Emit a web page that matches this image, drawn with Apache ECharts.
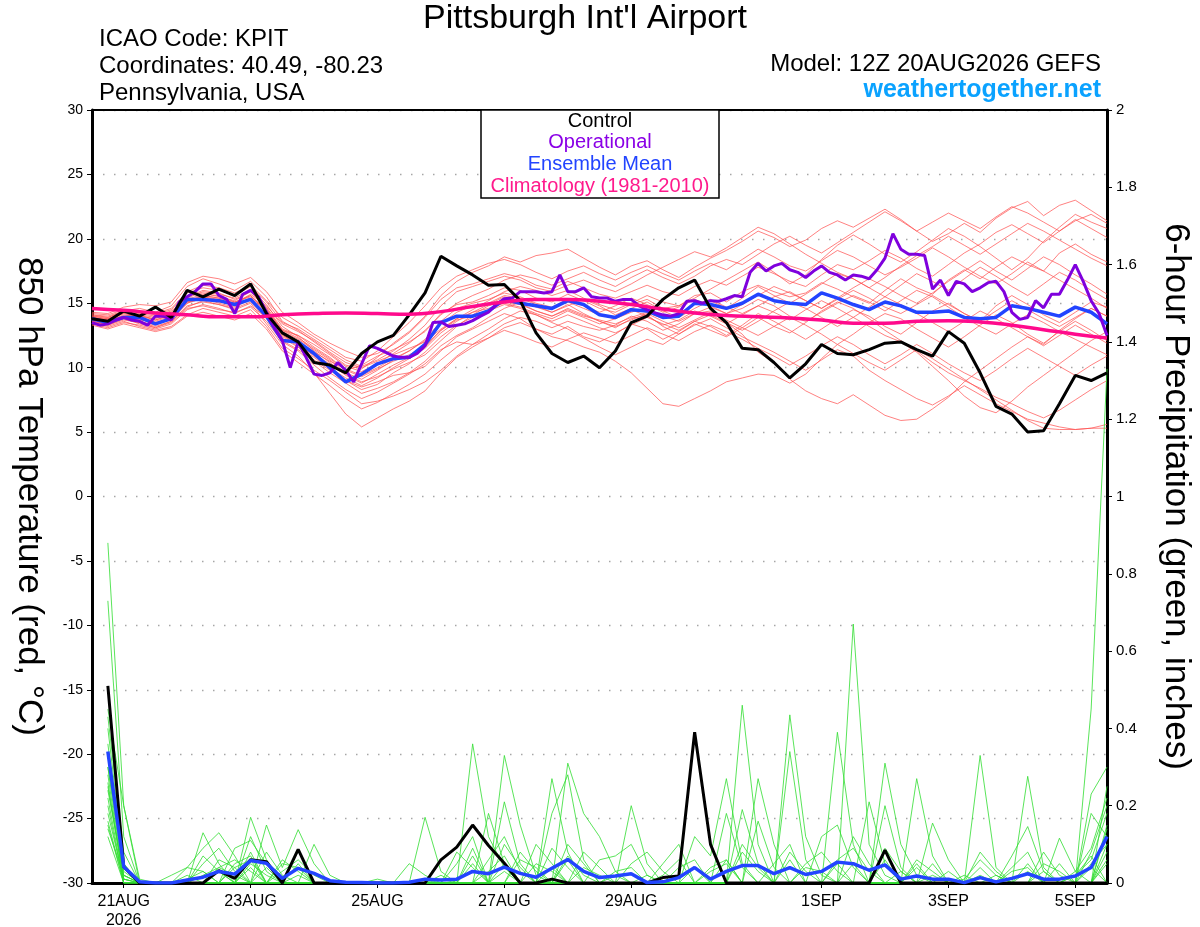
<!DOCTYPE html>
<html>
<head>
<meta charset="utf-8">
<title>Pittsburgh Int'l Airport - GEFS</title>
<script src="https://cdn.jsdelivr.net/npm/echarts@6/dist/echarts.min.js"></script>
<style>
html, body { margin: 0; padding: 0; background: #fff; }
#main { width: 1200px; height: 927px; }
</style>
</head>
<body>
<div id="main"></div>
<script>
// x axis runs in 3-hour slots from 12Z 20AUG2026 (slot 0) to 12Z 5SEP2026 (slot 128)
var tickSlots = [4, 20, 36, 52, 68, 92, 108, 124];
var tickLabels = ['21AUG\n2026', '23AUG', '25AUG', '27AUG', '29AUG', '1SEP', '3SEP', '5SEP'];

// 850 hPa temperature, 6-hourly (65 values)
var controlTemp = [13.8,13.6,14.4,14.0,14.7,13.9,16.0,15.5,16.1,15.6,16.5,14.2,
  12.7,12.0,10.4,10.2,9.6,11.1,12.0,12.5,
  14.1,15.8,18.65,17.9,17.2,16.4,16.45,15.2,12.7,11.1,10.4,10.9,
  10.0,11.3,13.5,14.0,15.3,16.2,16.8,14.6,
  13.5,11.5,11.4,10.4,9.2,10.3,11.8,11.1,
  11.0,11.4,11.9,12.0,11.4,10.9,12.8,11.9,
  9.6,7.0,6.4,5.0,5.1,7.2,9.4,9.0,9.6];

var meanTemp = [13.8,13.5,13.9,13.9,13.4,13.8,15.3,15.3,15.2,14.9,15.3,14.0,
  12.1,12.0,11.1,10.0,8.9,9.5,10.3,10.7,
  10.8,11.8,13.5,14.0,14.0,14.4,15.3,15.0,14.8,14.6,15.2,14.9,
  14.1,13.9,14.5,14.4,13.9,14.0,15.0,14.9,
  14.6,15.0,15.7,15.2,15.0,14.9,15.8,15.4,
  14.9,14.5,15.1,14.8,14.3,14.3,14.4,13.9,
  13.8,13.9,14.8,14.6,14.3,14.0,14.7,14.3,13.4];

// operational run, 3-hourly (129 values)
var operTemp = [13.5,13.3,13.4,13.7,13.9,13.7,13.6,13.3,14.0,14.0,13.7,15.1,15.5,15.9,16.5,16.5,
  15.6,15.3,14.2,15.7,16.0,15.5,14.3,13.1,12.1,10.0,12.0,10.8,9.5,9.4,9.6,10.4,
  9.8,8.9,10.3,11.7,11.5,11.2,10.9,10.8,10.8,11.1,11.7,13.5,13.55,
  13.2,13.3,13.4,13.65,14.0,14.3,14.9,15.35,15.4,15.9,15.9,15.9,15.8,15.9,17.2,15.9,
  15.9,16.2,15.5,15.4,15.4,15.15,15.3,15.3,14.8,14.5,14.25,14.1,14.0,14.2,15.15,15.2,
  15.0,15.2,15.15,15.35,15.6,15.5,17.4,18.1,17.5,17.9,18.1,17.6,
  17.4,17.0,17.5,17.9,17.4,17.2,16.8,17.2,17.1,16.9,17.6,18.5,20.4,19.2,18.8,18.8,
  18.7,16.1,16.8,15.6,16.7,16.5,15.9,16.2,16.6,16.7,15.9,14.3,13.75,13.9,15.2,14.65,
  15.7,15.7,16.8,18.0,16.7,15.2,14.2,12.5];

// climatology 1981-2010, 12-hourly (33 values)
var climTemp = [14.6,14.45,14.25,14.1,13.95,13.95,14.1,14.2,14.25,14.2,14.15,14.35,
  14.75,15.1,15.3,15.3,15.15,14.9,14.55,14.25,14.05,13.95,13.85,13.7,
  13.45,13.45,13.6,13.65,13.55,13.3,12.95,12.6,12.3];

// ensemble members, 6-hourly
var memberTemp = [
  [13.9,13.7,14.2,14.0,13.8,14.3,15.6,15.8,15.5,15.2,15.9,14.6, 12.9,12.5,11.6,10.8,9.8,10.2,10.9,11.4,
   12.0,12.8,14.2,14.9,15.1,15.6,16.2,16.0,15.4,15.1,15.7,15.2, 14.6,14.3,14.9,15.3,14.6,14.8,15.6,15.8,
   15.1,15.9,16.4,15.9,15.5,15.8,16.6,16.1, 15.5,15.0,16.0,16.9,16.2,15.7,16.8,17.6, 16.9,17.8,18.6,18.0,17.5,18.9,19.6,18.8,18.2],
  [13.6,13.3,13.8,13.5,13.2,13.6,14.8,15.1,14.9,14.5,15.0,13.4, 11.8,10.9,9.6,8.0,6.4,5.4,6.1,6.8,
   7.4,8.2,9.6,10.8,11.6,12.3,13.1,13.5,13.0,12.6,13.2,12.4, 12.0,12.6,13.4,13.0,12.2,12.8,13.6,13.2,
   12.5,13.3,14.2,13.6,12.9,12.2,13.0,13.8, 14.5,14.0,13.2,12.6,13.5,14.4,15.0,14.2, 13.6,14.8,15.6,14.9,14.1,13.5,14.3,15.1,14.7],
  [14.1,14.0,14.4,14.6,14.3,14.8,16.3,16.9,16.5,16.0,16.7,15.5, 13.6,12.9,12.0,11.1,10.2,9.9,10.8,11.9,
   12.8,14.0,15.6,16.7,17.4,17.9,18.6,18.2,18.7,18.9,19.2,18.5, 17.8,17.2,17.9,18.3,17.6,17.0,17.8,18.5,
   19.1,19.8,20.6,20.1,19.4,19.9,20.8,21.4, 20.9,21.6,22.3,21.5,20.6,19.8,20.4,21.2, 20.5,21.6,22.4,22.9,21.8,22.6,23.0,22.2,21.4],
  [13.4,13.1,13.5,13.3,13.0,13.4,14.5,14.9,14.6,14.2,14.8,13.9, 12.5,11.9,11.0,10.3,9.4,8.8,9.5,10.2,
   10.8,11.6,12.9,13.8,14.3,14.9,15.5,15.2,14.7,14.3,14.9,14.2, 13.6,13.1,13.8,14.1,13.2,12.6,13.3,13.8,
   13.1,12.4,11.8,11.2,10.5,9.8,10.6,11.4, 10.9,9.8,9.0,8.3,7.6,7.1,7.8,8.6, 7.9,7.2,6.6,6.0,5.7,5.4,5.2,5.3,5.6],
  [13.7,13.5,13.9,13.7,13.5,13.9,15.0,15.4,15.0,14.7,15.3,14.1, 12.3,11.6,10.8,9.9,9.0,8.5,8.9,9.4,
   9.6,10.1,11.3,12.4,13.0,13.6,14.2,13.8,13.0,12.4,12.1,11.6, 11.2,10.5,9.6,8.4,7.2,7.0,7.6,8.2,
   8.9,9.2,9.5,9.4,8.8,9.5,10.7,11.8, 12.6,13.5,14.2,13.8,13.0,12.3,11.6,12.4, 13.3,14.1,13.5,12.6,11.9,12.8,13.6,12.9,12.1],
  [13.8,13.6,14.1,13.9,13.6,14.0,15.2,15.5,15.3,15.0,15.6,14.3, 12.8,12.2,11.4,10.6,9.6,9.1,9.8,10.6,
   11.3,12.1,13.4,14.3,14.8,15.0,15.6,15.4,14.9,14.6,15.1,14.6, 14.1,13.8,14.3,14.7,14.0,13.6,14.2,14.4,
   13.5,12.6,11.2,10.4,9.1,8.2,7.6,7.2, 7.9,7.1,6.3,5.9,6.0,6.8,7.7,8.9, 9.8,10.7,11.6,12.4,11.8,12.9,13.8,14.6,14.0],
  [14.3,14.2,14.7,14.9,14.8,15.1,16.6,17.1,16.9,16.5,17.0,15.9, 14.3,13.5,12.6,11.9,11.3,10.8,11.1,11.8,
   12.7,13.9,15.3,16.2,16.5,16.9,17.3,17.0,16.4,16.1,16.7,16.2, 15.7,15.4,15.9,16.4,15.9,15.6,16.3,16.8,
   16.4,17.1,17.8,17.3,16.7,16.3,17.2,18.0, 17.6,18.3,19.1,18.5,17.7,17.1,18.0,18.9, 19.6,20.5,21.1,20.4,19.7,20.6,21.5,20.8,20.1],
  [13.5,13.2,13.6,13.2,12.9,13.2,14.1,14.6,14.3,14.0,14.5,13.2, 11.5,10.7,9.8,9.0,8.1,7.2,7.4,7.8,
   8.3,8.9,9.8,10.9,11.8,12.6,13.4,13.9,13.6,13.1,13.6,13.2, 12.9,13.3,14.0,13.6,12.9,13.4,14.2,14.7,
   14.2,14.6,15.3,14.8,14.0,13.6,14.3,15.0, 15.6,15.1,14.4,15.2,16.0,15.5,14.7,13.9, 13.2,12.6,13.4,14.1,13.5,12.8,12.2,11.6,11.0],
  [13.6,13.4,13.9,13.8,13.4,13.7,15.0,15.6,15.4,15.0,15.7,14.8, 13.4,12.8,12.1,11.2,10.4,10.0,10.5,11.0,
   11.5,12.0,13.0,13.8,14.5,15.2,15.9,16.3,16.0,15.6,16.0,15.4, 14.9,14.5,15.0,15.6,15.1,14.8,15.4,16.1,
   16.8,17.5,18.2,17.4,16.5,17.2,18.4,19.5, 20.3,19.6,18.8,18.2,19.0,19.9,20.8,20.2, 19.4,18.5,17.6,18.5,19.8,20.9,21.9,21.3,20.8],
  [14.0,13.8,14.3,14.2,14.0,14.4,15.4,15.9,15.7,15.4,16.1,14.9, 13.2,12.4,11.3,10.4,9.5,8.9,9.3,9.9,
   10.4,11.0,12.1,13.2,14.1,14.8,15.3,15.0,14.4,14.0,14.5,14.0, 13.7,13.4,13.9,14.3,13.8,14.2,14.9,15.3,
   14.7,14.2,14.8,15.5,15.9,15.2,14.6,15.3, 16.0,15.4,14.7,14.2,14.9,15.6,14.9,14.2, 13.6,14.4,15.2,14.5,13.8,13.2,13.9,14.6,14.0],
  [13.3,13.0,13.4,13.1,12.8,13.1,14.0,14.3,14.0,13.7,14.2,13.0, 11.3,10.4,9.5,8.6,7.6,6.8,7.3,8.0,
   8.7,9.5,10.6,11.6,12.3,13.0,13.8,14.4,14.1,13.5,13.0,12.3, 11.6,11.0,11.6,12.2,11.8,12.6,13.4,12.9,
   12.4,13.1,13.9,13.2,12.7,13.5,14.4,15.1, 14.6,13.8,12.9,12.1,11.3,10.4,9.6,9.0, 8.4,7.7,7.2,6.6,6.1,6.7,7.5,8.3,9.0],
  [14.2,14.1,14.5,14.3,14.2,14.6,15.9,16.4,16.2,15.8,16.4,15.2, 13.9,13.2,12.4,11.6,10.8,10.5,11.3,12.4,
   13.5,14.8,16.2,17.1,17.6,18.1,18.4,18.0,17.4,16.9,17.5,17.9, 17.3,16.8,17.4,17.9,17.3,16.8,17.5,18.1,
   17.6,18.4,19.2,18.6,17.9,17.5,18.3,19.1, 18.6,17.9,17.2,17.8,18.5,19.3,18.6,17.8, 17.1,16.5,17.3,18.2,17.5,16.8,16.1,15.4,14.6],
  [13.9,13.7,14.0,13.6,13.3,13.8,15.1,15.3,15.1,14.9,15.4,14.4, 12.6,11.6,10.5,9.6,8.8,8.0,8.4,8.9,
   9.6,10.5,11.7,12.5,13.1,13.9,14.6,15.1,14.8,14.3,14.8,15.3, 14.8,14.1,14.6,15.1,14.4,13.9,14.6,15.2,
   14.6,15.4,16.3,15.6,15.0,15.7,16.5,17.3, 16.9,16.2,15.5,16.4,17.3,16.7,16.0,16.9, 17.8,17.1,16.3,15.6,16.5,17.4,16.8,16.0,15.3],
  [14.0,13.9,14.3,14.1,13.9,14.2,15.5,16.0,15.8,15.3,15.9,14.7, 13.0,12.5,11.8,11.0,10.1,9.7,10.3,11.1,
   11.9,12.9,14.1,15.0,15.6,16.1,16.8,17.2,16.9,16.4,16.9,17.4, 16.8,16.3,17.0,17.6,17.0,16.5,17.1,17.9,
   18.4,18.0,18.8,19.6,20.2,19.5,18.9,19.7, 20.5,21.3,22.1,21.4,20.6,21.3,22.0,21.4, 20.8,21.7,22.5,22.0,21.3,20.6,21.4,21.9,21.2],
  [13.5,13.3,13.7,13.5,13.1,13.5,14.6,14.8,14.5,14.3,14.7,13.6, 12.0,11.3,10.2,9.2,8.3,7.6,8.1,8.8,
   9.5,10.3,11.4,12.0,11.8,12.3,12.9,12.5,12.0,11.6,12.2,12.7, 12.3,11.9,12.5,13.1,12.6,12.1,12.8,13.3,
   12.8,12.2,11.5,10.9,10.2,10.9,11.7,12.4, 11.8,11.0,10.3,11.0,11.8,11.1,10.3,9.6, 9.0,9.8,10.7,11.5,10.8,10.1,9.4,10.2,10.9],
  [13.7,13.6,14.0,14.1,13.7,14.1,15.3,15.7,15.6,15.1,15.5,14.5, 12.7,12.0,11.2,10.5,9.9,9.4,10.0,10.7,
   11.3,12.2,13.6,14.6,15.0,15.3,15.8,15.5,15.0,14.7,15.3,14.8, 14.3,14.8,15.4,14.9,14.3,14.7,15.3,14.8,
   14.2,14.9,15.6,16.3,15.8,15.2,14.6,15.4, 16.2,16.9,16.3,15.6,15.0,15.8,16.7,17.5, 18.3,17.5,16.8,17.7,18.6,18.0,17.2,16.5,15.7],
  [13.8,13.5,13.9,13.8,13.4,13.9,15.1,15.5,15.2,14.8,15.3,14.2, 12.4,11.8,10.9,10.0,9.2,8.6,9.2,10.0,
   10.7,11.5,12.7,13.6,14.3,14.6,15.0,14.7,14.2,13.8,14.4,13.9, 13.4,13.8,14.5,14.0,13.3,13.7,14.4,14.0,
   13.4,14.1,14.8,14.3,13.7,14.5,15.2,14.6, 13.9,13.2,12.5,12.0,11.2,10.1,9.0,7.8, 6.9,6.5,7.4,8.5,9.4,10.3,11.2,12.1,12.8],
  [14.1,13.9,14.4,14.3,14.1,14.5,15.8,16.2,16.0,15.6,16.3,15.1, 13.5,13.0,12.2,11.4,10.6,10.1,10.6,11.3,
   12.2,13.3,14.8,15.9,16.3,16.7,17.1,16.8,16.2,15.9,16.4,16.8, 16.3,15.9,16.5,17.2,17.8,18.4,19.0,18.6,
   19.3,20.1,20.9,20.4,19.6,18.8,18.1,17.4, 16.9,16.2,17.0,17.9,18.7,19.4,20.2,19.5, 18.8,19.6,20.4,21.2,20.6,19.9,19.2,18.5,17.9],
  [13.6,13.4,13.8,13.4,13.1,13.6,14.7,15.2,14.9,14.6,15.1,13.8, 12.1,11.4,10.6,9.8,9.0,8.3,8.7,9.6,
   10.3,11.2,12.4,13.3,13.9,14.4,14.9,14.6,14.1,13.6,14.1,13.6, 13.1,12.7,13.3,13.9,13.4,12.9,13.6,14.1,
   13.5,12.9,13.6,14.4,15.1,14.6,13.9,13.2, 13.9,14.7,15.5,14.9,14.2,13.5,12.8,13.6, 14.4,13.8,13.1,12.4,11.7,12.5,13.3,12.6,11.9],
  [13.9,13.8,14.2,14.0,13.7,14.1,15.2,15.6,15.4,15.1,15.6,14.5, 12.9,12.3,11.5,10.7,9.8,9.3,9.9,10.5,
   11.0,11.7,12.9,13.7,14.0,14.5,15.1,14.9,14.4,14.0,14.6,14.1, 13.6,13.2,13.7,14.2,13.6,13.1,13.7,14.3,
   13.7,13.1,12.5,13.2,13.9,13.3,12.6,11.8, 11.1,10.4,9.8,10.6,11.4,10.7,9.9,9.1, 8.3,7.5,6.7,5.9,5.3,5.2,5.2,5.3,5.3]
];

// 6-hour precipitation (inches), 6-hourly, no value at the initial time
var controlPrecip = [null,0.51,0.042,0,0,0,0,0,0.032,0.012,
  0.06,0.055,0,0.087,0,0,0,0,0,0,
  0,0,0.06,0.093,0.15,0.097,0.051,0,0,0.01,
  0,0,0,0,0,0,0.014,0.018,0.39,0.1,
  0,0,0,0,0,0,0,0,0,0,
  0.085,0,0,0,0,0,0,0,0,0,
  0,0,0,0,0];

var meanPrecip = [null,0.34,0.042,0.003,0,0,0.008,0.015,0.03,0.023,
  0.058,0.051,0.012,0.038,0.025,0.006,0.002,0.001,0,0,
  0.002,0.01,0.008,0.01,0.03,0.024,0.041,0.025,0.015,0.038,
  0.061,0.03,0.014,0.018,0.024,0.001,0.003,0.014,0.04,0.01,
  0.03,0.045,0.045,0.024,0.04,0.022,0.03,0.054,0.05,0.033,
  0.047,0.01,0.018,0.01,0.01,0.001,0.014,0.003,0.012,0.024,
  0.01,0.01,0.018,0.04,0.12];

var memberPrecip = [
  [null,0.88,0.20,0.01,0,0,0,0,0.04,0.06, 0.03,0,0,0,0,0,0,0,0,0, 0,0,0,0,0.36,0.12,0.04,0,0,0,
   0,0,0,0,0,0,0,0,0,0, 0,0.46,0.1,0,0,0,0,0,0.05,0, 0,0,0,0,0,0,0.33,0.04,0,0, 0,0,0,0.08,0.2],
  [null,0.73,0.12,0,0,0,0,0.13,0.05,0, 0,0,0,0.02,0,0,0,0,0,0, 0,0,0,0,0,0,0,0,0,0.27,
   0.08,0,0,0,0,0,0,0,0,0, 0,0,0,0,0.435,0.12,0.02,0,0,0, 0,0,0.05,0,0,0,0,0,0,0.05, 0,0,0,0.45,1.33],
  [null,0.45,0.2,0,0,0,0,0,0,0, 0.17,0.06,0,0,0,0,0,0,0,0, 0,0.17,0.03,0,0,0,0.33,0.15,0.02,0,
   0,0,0,0,0,0,0,0,0,0, 0.06,0,0,0,0,0,0,0,0.67,0.1, 0.02,0,0,0,0,0,0,0,0,0.276, 0.04,0,0,0,0.05],
  [null,0.43,0.08,0,0,0,0.04,0.09,0.13,0.07, 0,0,0,0,0,0,0,0,0,0, 0,0,0,0.05,0.12,0,0,0,0,0,
   0.31,0.18,0.12,0.03,0,0,0,0,0,0, 0,0,0,0,0,0,0,0.39,0.1,0, 0,0,0,0.155,0.06,0,0,0,0,0, 0,0,0,0.23,0.3],
  [null,0.40,0.05,0,0,0,0,0,0,0, 0,0.15,0.04,0.138,0.05,0,0,0,0,0, 0,0,0,0,0,0,0.21,0.05,0,0,
   0,0,0,0,0.2,0.05,0,0,0,0, 0,0.19,0.05,0,0,0,0,0,0,0, 0.31,0.1,0.02,0,0,0,0,0,0,0, 0,0.116,0.03,0,0.25],
  [null,0.36,0.03,0,0,0,0,0,0,0.09, 0.11,0.05,0,0,0,0,0,0,0,0, 0,0,0,0,0,0.18,0.05,0,0,0,
   0,0,0,0,0,0,0,0,0.12,0.07, 0.27,0.05,0,0,0.34,0.06,0,0,0,0, 0,0,0,0,0,0,0.02,0,0,0, 0,0,0,0.18,0.12],
  [null,0.33,0.02,0,0,0,0,0.07,0.03,0, 0,0,0,0,0.1,0.02,0,0,0,0, 0,0,0,0,0,0,0,0,0,0.18,
   0.28,0.06,0,0,0,0,0,0,0,0, 0,0,0.27,0.1,0,0,0,0,0,0, 0,0,0.27,0.07,0,0,0,0,0,0, 0.08,0.02,0,0,0],
  [null,0.30,0.01,0,0,0,0,0,0,0, 0.08,0,0.06,0.03,0,0,0,0,0,0, 0,0,0,0,0.05,0,0,0,0.1,0.05,
   0,0,0,0,0,0,0.05,0.1,0,0, 0.18,0.04,0,0,0,0,0,0,0,0.21, 0.05,0,0,0,0,0,0,0,0.07,0.146, 0.03,0,0,0,0.08],
  [null,0.28,0,0,0,0.02,0.04,0.03,0,0.05, 0.07,0,0,0,0,0,0,0,0,0, 0,0,0.01,0,0,0,0.1,0.04,0,0,
   0,0,0.06,0.07,0.1,0.02,0,0,0,0, 0,0,0,0,0,0,0.12,0.15,0.04,0, 0,0,0,0,0,0.01,0.06,0.02,0,0, 0,0,0,0,0.15],
  [null,0.25,0.01,0,0,0,0,0,0.06,0.04, 0,0,0,0.05,0,0,0,0,0.01,0, 0.05,0.02,0,0,0,0,0,0,0,0,
   0.1,0.05,0,0,0,0,0,0,0,0, 0,0,0.16,0.04,0,0,0,0,0,0, 0.2,0.04,0,0,0,0,0,0,0,0, 0,0,0.02,0.06,0.18],
  [null,0.22,0,0,0,0,0,0,0,0, 0.12,0.03,0,0,0,0,0,0,0,0, 0,0,0,0.08,0.04,0,0,0,0,0.09,
   0.04,0,0,0,0,0,0,0.04,0.06,0, 0,0,0,0,0.08,0.03,0,0,0,0, 0,0,0,0.05,0,0,0,0,0.04,0.08, 0,0,0,0,0],
  [null,0.20,0,0,0,0,0,0.05,0.09,0.03, 0,0,0,0,0,0,0,0,0,0, 0,0,0,0,0,0.06,0.12,0.03,0,0,
   0,0,0,0,0.05,0.08,0.03,0,0,0, 0,0,0,0,0,0,0,0.06,0.09,0.03, 0,0,0,0,0,0,0.04,0,0,0, 0.03,0,0,0.05,0.1],
  [null,0.18,0.01,0,0,0,0,0,0,0, 0,0.08,0.02,0,0,0,0,0,0,0, 0,0,0,0,0,0,0,0.06,0.04,0,
   0,0.08,0.04,0,0,0,0,0,0,0, 0,0.08,0.03,0,0,0,0,0,0,0, 0.06,0,0,0,0.03,0,0,0,0,0, 0,0.05,0,0,0],
  [null,0.16,0,0,0,0,0.02,0,0,0.04, 0.06,0,0,0,0,0,0,0,0,0, 0,0,0,0,0,0,0.03,0,0,0.04,
   0,0,0,0.02,0,0,0,0,0,0.04, 0.06,0,0,0,0,0.05,0.08,0.03,0,0, 0,0,0.04,0,0,0,0,0.02,0,0, 0,0,0.03,0.09,0.22],
  [null,0.15,0,0,0,0,0,0,0.03,0, 0,0,0.05,0.04,0,0,0,0,0,0, 0,0,0,0,0.09,0,0,0,0,0,
   0.06,0,0,0,0,0,0,0,0.04,0, 0,0,0,0.05,0.1,0,0,0,0,0, 0,0.03,0,0,0,0,0,0,0.03,0.04, 0,0,0,0,0],
  [null,0.14,0.02,0,0,0,0,0,0,0, 0.05,0.02,0,0,0,0,0,0,0,0, 0,0,0.02,0,0,0.03,0.07,0,0,0,
   0,0,0,0.03,0.04,0,0,0,0,0, 0,0,0,0,0,0,0,0,0.12,0.05, 0,0,0,0,0,0.02,0,0,0,0, 0,0,0,0,0.06],
  [null,0.12,0,0,0,0,0,0.02,0.04,0.02, 0,0,0,0,0,0,0,0,0,0, 0,0,0,0,0,0,0,0,0.05,0.03,
   0,0,0,0,0,0,0.02,0.06,0,0, 0,0.1,0.04,0,0,0,0,0,0,0, 0,0,0,0.02,0,0,0,0,0,0, 0.05,0.03,0,0.04,0],
  [null,0.30,0.05,0,0,0,0,0,0,0, 0,0,0.03,0.06,0.02,0,0,0,0,0, 0,0,0,0,0.07,0,0,0,0,0,
   0,0.04,0.02,0,0,0,0,0,0,0, 0,0,0,0,0.06,0,0,0.05,0,0, 0,0,0,0,0,0,0.08,0.03,0,0, 0,0,0,0,0.14],
  [null,0.26,0,0,0,0,0,0,0,0, 0.04,0,0,0,0,0,0,0,0,0, 0,0.01,0,0,0,0,0,0.08,0.03,0,
   0,0,0,0,0,0.02,0,0,0,0.03, 0.05,0,0,0,0,0,0,0,0,0, 0.09,0.03,0,0,0,0,0,0,0,0.03, 0,0,0.02,0.07,0],
  [null,0.24,0.02,0,0,0,0.01,0.03,0,0, 0,0.04,0,0,0,0,0,0,0,0, 0,0,0,0,0,0,0.05,0,0,0,
   0.07,0.02,0,0,0,0,0,0,0,0, 0,0,0,0,0,0.04,0.03,0,0,0, 0,0,0.06,0.03,0,0,0,0,0,0, 0,0,0,0,0.1]
];

var FONT = '"Liberation Sans", Arial, Helvetica, sans-serif';

var slots = [];
for (var k = 0; k <= 128; k++) slots.push('t' + (k * 3));

function sixHourly(arr) {
  return arr.map(function (v, i) { return [2 * i, v]; });
}
function threeHourly(arr) {
  return arr.map(function (v, i) { return [i, v]; });
}
function twelveHourly(arr) {
  return arr.map(function (v, i) { return [4 * i, v]; });
}
function isTick(index) {
  return tickSlots.indexOf(index) >= 0;
}

var series = [];
memberTemp.forEach(function (m) {
  series.push({
    type: 'line', data: sixHourly(m), yAxisIndex: 0, symbol: 'none', silent: true, z: 1,
    lineStyle: { color: '#ff5050', width: 0.9, opacity: 0.8 }
  });
});
memberPrecip.forEach(function (m) {
  series.push({
    type: 'line', data: sixHourly(m), yAxisIndex: 1, symbol: 'none', silent: true, z: 1,
    lineStyle: { color: '#33dd33', width: 0.9, opacity: 0.9 }
  });
});
series.push({
  type: 'line', data: sixHourly(controlPrecip), yAxisIndex: 1, symbol: 'none', silent: true, z: 3,
  lineStyle: { color: '#000', width: 3 }
});
series.push({
  type: 'line', data: sixHourly(meanPrecip), yAxisIndex: 1, symbol: 'none', silent: true, z: 3,
  lineStyle: { color: '#2244ff', width: 3.5 }
});
series.push({
  type: 'line', data: sixHourly(meanTemp), yAxisIndex: 0, symbol: 'none', silent: true, z: 3,
  lineStyle: { color: '#2244ff', width: 3.5 }
});
series.push({
  type: 'line', data: threeHourly(operTemp), yAxisIndex: 0, symbol: 'none', silent: true, z: 4,
  lineStyle: { color: '#7f00dd', width: 3 }
});
series.push({
  type: 'line', data: sixHourly(controlTemp), yAxisIndex: 0, symbol: 'none', silent: true, z: 5,
  lineStyle: { color: '#000', width: 3 }
});
series.push({
  type: 'line', data: twelveHourly(climTemp), yAxisIndex: 0, symbol: 'none', silent: true, z: 6,
  smooth: true, lineStyle: { color: '#ff0a8c', width: 3.5 }
});

var myChart = echarts.init(document.getElementById('main'));
var option = {
  animation: false,
  backgroundColor: '#fff',
  grid: {
    left: 92, right: 93, top: 110, bottom: 44,
    containLabel: false, outerBoundsMode: 'none',
    show: false
  },
  xAxis: {
    type: 'category',
    data: slots,
    boundaryGap: false,
    axisLine: { show: true, onZero: false, lineStyle: { color: '#000', width: 3 } },
    axisTick: { show: true, length: 5, interval: function (index) { return isTick(index); },
      lineStyle: { color: '#000', width: 1 } },
    axisLabel: {
      interval: function (index) { return isTick(index); },
      formatter: function (value, index) {
        var p = tickSlots.indexOf(index);
        return p >= 0 ? tickLabels[p] : '';
      },
      color: '#000', fontSize: 16, fontFamily: FONT, margin: 9, lineHeight: 19
    },
    splitLine: { show: false }
  },
  yAxis: [
    {
      type: 'value', min: -30, max: 30, interval: 5, position: 'left',
      name: '850 hPa Temperature (red, \u00b0C)',
      nameLocation: 'middle', nameGap: 46, nameRotate: -90, nameMoveOverlap: false,
      nameTextStyle: { fontSize: 35, color: '#000', fontFamily: FONT },
      axisLine: { show: true, lineStyle: { color: '#000', width: 3 } },
      axisTick: { show: true, length: 5, lineStyle: { color: '#000', width: 1 } },
      axisLabel: { color: '#000', fontSize: 14, fontFamily: FONT, margin: 9 },
      splitLine: { show: true, lineStyle: { color: '#a6a6a6', width: 1.3, type: [1.5, 9.5] } }
    },
    {
      type: 'value', min: 0, max: 2, interval: 0.2, position: 'right',
      name: '6-hour Precipitation (green, inches)',
      nameLocation: 'middle', nameGap: 51, nameRotate: -90, nameMoveOverlap: false,
      nameTextStyle: { fontSize: 35, color: '#000', fontFamily: FONT },
      axisLine: { show: true, lineStyle: { color: '#000', width: 3 } },
      axisTick: { show: true, length: 5, lineStyle: { color: '#000', width: 1 } },
      axisLabel: { color: '#000', fontSize: 15, fontFamily: FONT, margin: 9 },
      splitLine: { show: false }
    }
  ],
  graphic: [
    // top frame line of the plot box
    { type: 'line', z: 98, shape: { x1: 92, y1: 110, x2: 1107, y2: 110 },
      style: { stroke: '#000', lineWidth: 2 } },
    { type: 'text', z: 100, style: { text: "Pittsburgh Int'l Airport", x: 585, y: 19, textAlign: 'center', align: 'center',
      textVerticalAlign: 'middle', verticalAlign: 'middle', font: '34px ' + FONT, fill: '#000' } },
    { type: 'text', z: 100, style: { text: 'ICAO Code: KPIT', x: 99, y: 39, textVerticalAlign: 'middle', verticalAlign: 'middle',
      font: '24px ' + FONT, fill: '#000' } },
    { type: 'text', z: 100, style: { text: 'Coordinates: 40.49, -80.23', x: 99, y: 66, textVerticalAlign: 'middle', verticalAlign: 'middle',
      font: '24px ' + FONT, fill: '#000' } },
    { type: 'text', z: 100, style: { text: 'Pennsylvania, USA', x: 99, y: 93, textVerticalAlign: 'middle', verticalAlign: 'middle',
      font: '24px ' + FONT, fill: '#000' } },
    { type: 'text', z: 100, style: { text: 'Model: 12Z 20AUG2026 GEFS', x: 1101, y: 64, textAlign: 'right', align: 'right',
      textVerticalAlign: 'middle', verticalAlign: 'middle', font: '24px ' + FONT, fill: '#000' } },
    { type: 'text', z: 100, style: { text: 'weathertogether.net', x: 1101, y: 90, textAlign: 'right', align: 'right',
      textVerticalAlign: 'middle', verticalAlign: 'middle', font: 'bold 25px ' + FONT, fill: '#0aa2ff' } },
    { type: 'rect', z: 99, shape: { x: 481, y: 110, width: 238, height: 88 },
      style: { fill: '#fff', stroke: '#000', lineWidth: 1.5 } },
    { type: 'text', z: 100, style: { text: 'Control', x: 600, y: 121, textAlign: 'center', align: 'center',
      textVerticalAlign: 'middle', verticalAlign: 'middle', font: '20px ' + FONT, fill: '#000' } },
    { type: 'text', z: 100, style: { text: 'Operational', x: 600, y: 142, textAlign: 'center', align: 'center',
      textVerticalAlign: 'middle', verticalAlign: 'middle', font: '20px ' + FONT, fill: '#8a00e6' } },
    { type: 'text', z: 100, style: { text: 'Ensemble Mean', x: 600, y: 164, textAlign: 'center', align: 'center',
      textVerticalAlign: 'middle', verticalAlign: 'middle', font: '20px ' + FONT, fill: '#2244ff' } },
    { type: 'text', z: 100, style: { text: 'Climatology (1981-2010)', x: 600, y: 186, textAlign: 'center', align: 'center',
      textVerticalAlign: 'middle', verticalAlign: 'middle', font: '20px ' + FONT, fill: '#ff1a8c' } }
  ],
  series: series
};
myChart.setOption(option, true);
</script>
</body>
</html>
